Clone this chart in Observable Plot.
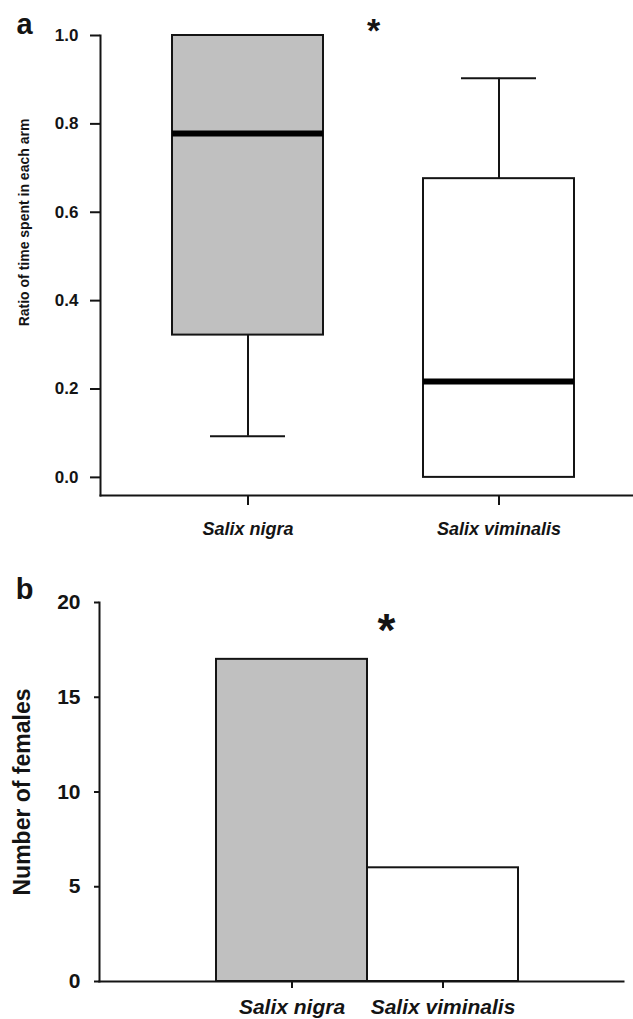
<!DOCTYPE html>
<html>
<head>
<meta charset="utf-8">
<script src="https://cdn.jsdelivr.net/npm/d3@7"></script>
<script src="https://cdn.jsdelivr.net/npm/@observablehq/plot@0.6"></script>
<style>
  html, body { margin: 0; padding: 0; background: #fff; }
  #chart svg { display: block; }
</style>
</head>
<body>
<div id="chart"></div>
<script>
// ---- data ----
const species = ["Salix nigra", "Salix viminalis"];
const lowerWhisker = [0.093, 0.0];
const q1 = [0.322, 0.0];
const median = [0.778, 0.217];
const q3 = [1.0, 0.676];
const upperWhisker = [1.0, 0.903];
const females = [17, 6];
const fills = ["#c0c0c0", "#ffffff"];
const yTicksA = [0, 0.2, 0.4, 0.6, 0.8, 1.0];
const yTicksB = [0, 5, 10, 15, 20];
const titleA = "Ratio of time spent in each arm";
const titleB = "Number of females";

const boxData = species.map((s, i) => ({
  species: s, lo: lowerWhisker[i], q1: q1[i], median: median[i], q3: q3[i], hi: upperWhisker[i], fill: fills[i]
}));
const barData = species.map((s, i) => ({species: s, count: females[i], fill: fills[i]}));

const font = "'Liberation Sans', Arial, Helvetica, sans-serif";
const ink = "#141414";
const centered = {textAnchor: "middle", lineAnchor: "middle"};

const plotA = Plot.plot({
  width: 633, height: 545,
  marginLeft: 100, marginRight: 0, marginTop: 35, marginBottom: 50,
  style: {fontFamily: font, color: ink, background: "white", overflow: "visible"},
  x: {domain: species, paddingInner: 0.4, paddingOuter: 0.258, align: 0.546, axis: null},
  y: {domain: [-0.041, 1], axis: null},
  marks: [
    Plot.barY(boxData, {x: "species", y1: "q1", y2: "q3", fill: "fill", stroke: ink, strokeWidth: 2}),
    Plot.ruleX(boxData, {x: "species", y1: "lo", y2: "q1", stroke: ink, strokeWidth: 2}),
    Plot.ruleX(boxData, {x: "species", y1: "q3", y2: "hi", stroke: ink, strokeWidth: 2}),
    Plot.tickY(boxData.filter(d => d.lo < d.q1), {x: "species", y: "lo", stroke: ink, strokeWidth: 2, insetLeft: 38, insetRight: 38}),
    Plot.tickY(boxData.filter(d => d.hi > d.q3), {x: "species", y: "hi", stroke: ink, strokeWidth: 2, insetLeft: 38, insetRight: 38}),
    Plot.tickY(boxData, {x: "species", y: "median", stroke: "#000", strokeWidth: 6}),
    Plot.frame({anchor: "left", stroke: ink, strokeWidth: 2}),
    Plot.frame({anchor: "bottom", stroke: ink, strokeWidth: 2}),
    Plot.axisY({ticks: yTicksA, tickFormat: d3.format(".1f"), tickSize: 10, tickPadding: 12,
      fontSize: 17, fontWeight: "bold", strokeWidth: 2, label: null}),
    Plot.axisX({tickSize: 10, tickPadding: 17, fontSize: 18, fontWeight: "bold", fontStyle: "italic",
      strokeWidth: 2, label: null}),
    Plot.text([titleA], {...centered, frameAnchor: "left", dx: -76, dy: -43, rotate: -90, fontSize: 14, fontWeight: "bold"}),
    Plot.text(["a"], {...centered, frameAnchor: "top-left", dx: -76, dy: -11, fontSize: 29, fontWeight: "bold"}),
    Plot.text(["*"], {...centered, frameAnchor: "top-left", dx: 273, dy: -4, fontSize: 34, fontWeight: "bold"})
  ]
});

const plotB = Plot.plot({
  width: 633, height: 474,
  marginLeft: 99, marginRight: 10, marginTop: 57, marginBottom: 38,
  style: {fontFamily: font, color: ink, background: "white", overflow: "visible"},
  x: {domain: species, paddingInner: 0, paddingOuter: 0.735, align: 0.527, axis: null},
  y: {domain: [0, 20], axis: null},
  marks: [
    Plot.barY(barData, {x: "species", y: "count", fill: "fill", stroke: ink, strokeWidth: 2}),
    Plot.frame({anchor: "left", stroke: ink, strokeWidth: 2}),
    Plot.frame({anchor: "bottom", stroke: ink, strokeWidth: 2}),
    Plot.axisY({ticks: yTicksB, tickSize: 5, tickPadding: 14, fontSize: 21, fontWeight: "bold",
      strokeWidth: 2, label: null}),
    Plot.axisX({tickSize: 7, tickPadding: 11, fontSize: 21, fontWeight: "bold", fontStyle: "italic",
      strokeWidth: 2, label: null}),
    Plot.text([titleB], {...centered, frameAnchor: "left", dx: -77, rotate: -90, fontSize: 23, fontWeight: "bold"}),
    Plot.text(["b"], {...centered, frameAnchor: "top-left", dx: -75, dy: -13, fontSize: 29, fontWeight: "bold"}),
    Plot.text(["*"], {...centered, frameAnchor: "top-left", dx: 287, dy: 29, fontSize: 46, fontWeight: "bold"})
  ]
});

document.getElementById("chart").append(plotA, plotB);
</script>
</body>
</html>
